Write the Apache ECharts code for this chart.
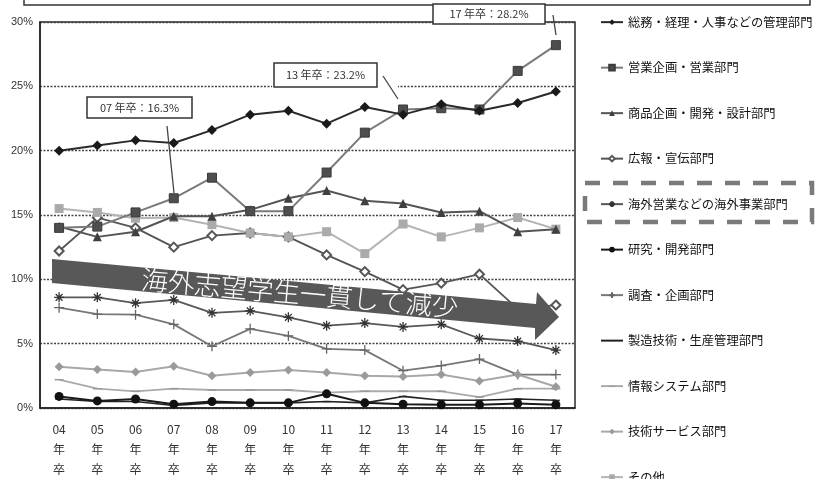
<!DOCTYPE html>
<html>
<head>
<meta charset="utf-8">
<script src="https://cdn.jsdelivr.net/npm/echarts@6/dist/echarts.min.js"></script>
<style>
  html, body { margin: 0; padding: 0; background: #fff; }
  #chart { width: 820px; height: 479px; }
</style>
</head>
<body>
<div id="chart"></div>
<script>
// 卒業年度
const categories = ['04','05','06','07','08','09','10','11','12','13','14','15','16','17'];

// 希望部門別の割合（%）
const kanri   = [20.0,20.4,20.8,20.6,21.6,22.8,23.1,22.1,23.4,22.8,23.6,23.1,23.7,24.6];
const eigyo   = [14.0,14.1,15.2,16.3,17.9,15.3,15.3,18.3,21.4,23.2,23.3,23.2,26.2,28.2];
const shohin  = [14.1,13.3,13.7,14.9,14.9,15.4,16.3,16.9,16.1,15.9,15.2,15.3,13.7,13.9];
const koho    = [12.2,14.8,14.0,12.5,13.4,13.6,13.3,11.9,10.6,9.2,9.7,10.4,7.7,8.0];
const kaigai  = [8.6,8.6,8.15,8.4,7.4,7.55,7.05,6.4,6.6,6.3,6.5,5.4,5.2,4.5];
const kenkyu  = [0.9,0.55,0.7,0.3,0.5,0.4,0.4,1.1,0.4,0.3,0.25,0.25,0.35,0.25];
const chosa   = [7.8,7.3,7.25,6.5,4.8,6.15,5.6,4.6,4.5,2.9,3.3,3.8,2.6,2.6];
const seizo   = [0.7,0.5,0.5,0.2,0.4,0.4,0.4,0.5,0.4,0.9,0.6,0.6,0.7,0.6];
const joho    = [2.2,1.5,1.3,1.5,1.4,1.4,1.4,1.2,1.3,1.3,1.3,0.85,1.5,1.5];
const gijutsu = [3.2,3.0,2.8,3.25,2.5,2.75,2.95,2.75,2.5,2.45,2.6,2.1,2.6,1.65];
const sonota  = [15.5,15.2,14.75,14.8,14.25,13.6,13.3,13.7,12.0,14.3,13.3,14.0,14.8,13.9];

const seriesNames = [
  '総務・経理・人事などの管理部門',
  '営業企画・営業部門',
  '商品企画・開発・設計部門',
  '広報・宣伝部門',
  '海外営業などの海外事業部門',
  '研究・開発部門',
  '調査・企画部門',
  '製造技術・生産管理部門',
  '情報システム部門',
  '技術サービス部門',
  'その他'
];

// 吹き出しで示す営業部門の年度
const calloutYears = ['07', '13', '17'];
const arrowText = '海外志望学生一貫して減少';

const FONT = '"Noto Sans CJK JP", "Noto Sans", sans-serif';
const asterisk = 'path://M5,0L5,10M0,5L10,5M1.6,1.6L8.4,8.4M1.6,8.4L8.4,1.6';
const plus = 'path://M5,0L5,10M0,5L10,5';
// 正方形の枠内に置いた細い横棒（縦横比を保つため枠の角に移動点を置く）
const dash = 'path://M0,0M10,10M0,4.2L10,4.2L10,5.8L0,5.8Z';

function line(name, data, o) {
  return {
    name, type: 'line', data,
    symbol: o.symbol, symbolSize: o.size,
    lineStyle: { color: o.line, width: o.width || 2 },
    itemStyle: Object.assign({ color: o.mark }, o.item || {}),
    z: o.z || 2
  };
}

const series = [
  line(seriesNames[0], kanri,   { symbol: 'diamond', size: 10, line: '#2a2a2a', mark: '#1a1a1a', z: 6 }),
  line(seriesNames[1], eigyo,   { symbol: 'rect', size: 9, line: '#7a7a7a', mark: '#4e4e4e', item: { borderColor: '#3a3a3a', borderWidth: 1 }, z: 5 }),
  line(seriesNames[2], shohin,  { symbol: 'triangle', size: 9, line: '#555', mark: '#3f3f3f', z: 4 }),
  line(seriesNames[3], koho,    { symbol: 'emptyDiamond', size: 9, line: '#555', mark: '#555', item: { borderWidth: 1.3 }, width: 1.8 }),
  line(seriesNames[4], kaigai,  { symbol: asterisk, size: 10, line: '#585858', mark: '#333', item: { borderColor: '#333', borderWidth: 1.3 }, width: 1.8 }),
  line(seriesNames[5], kenkyu,  { symbol: 'circle', size: 9, line: '#1a1a1a', mark: '#111', z: 4 }),
  line(seriesNames[6], chosa,   { symbol: plus, size: 10, line: '#777', mark: '#666', item: { borderColor: '#666', borderWidth: 1.3 }, width: 1.8 }),
  line(seriesNames[7], seizo,   { symbol: dash, size: 8, line: '#222', mark: '#222', width: 1.6 }),
  line(seriesNames[8], joho,    { symbol: dash, size: 9, line: '#aaa', mark: '#999', width: 1.8 }),
  line(seriesNames[9], gijutsu, { symbol: 'diamond', size: 9, line: '#a8a8a8', mark: '#9a9a9a', width: 2 }),
  line(seriesNames[10], sonota, { symbol: 'rect', size: 9, line: '#b4b4b4', mark: '#aaa', width: 2 })
];

const chart = echarts.init(document.getElementById('chart'), null, { renderer: 'canvas' });

chart.setOption({
  animation: false,
  backgroundColor: '#fff',
  grid: { left: 40, top: 22, width: 535, height: 393, show: true, borderColor: '#2a2a2a', borderWidth: 1.5 },
  xAxis: {
    type: 'category', data: categories, boundaryGap: true,
    axisLine: { lineStyle: { color: '#222', width: 1.5 } },
    axisTick: { inside: true, length: 4, lineStyle: { color: '#333', width: 1.2 } },
    axisLabel: { formatter: v => v + '\n年\n卒', lineHeight: 20, fontSize: 12, color: '#333', margin: 11, fontFamily: FONT }
  },
  yAxis: {
    type: 'value', min: 0, max: 30, interval: 5,
    axisLine: { show: true, lineStyle: { color: '#222', width: 1.5 } },
    axisTick: { show: false },
    axisLabel: { formatter: '{value}%', fontSize: 11, color: '#333', margin: 7, fontFamily: 'Liberation Sans, sans-serif' },
    splitLine: { lineStyle: { type: [2, 1.5], color: '#444', width: 1.3 } }
  },
  legend: {
    orient: 'vertical', left: 595, top: 11, height: 700,
    itemWidth: 22, itemHeight: 7, itemGap: 33.2,
    textStyle: { fontSize: 12.3, color: '#111', fontFamily: FONT },
    data: seriesNames
  },
  series
});

// 吹き出しと矢印の注記
function drawNotes() {
  const els = [];
  // 上部の枠
  els.push({ type: 'rect', shape: { x: 24, y: -20, width: 786, height: 25 }, style: { fill: 'none', stroke: '#333', lineWidth: 1.5 }, z: 100 });
  // 海外事業部門の強調枠
  els.push({ type: 'rect', shape: { x: 585, y: 183, width: 227, height: 39 }, style: { fill: 'none', stroke: '#7a7a7a', lineWidth: 4.5, lineDash: [15, 13] }, z: 100 });

  const boxes = {
    '07': { box: [87, 97, 105, 21], lead: [167, 126, 174, 193] },
    '13': { box: [274, 63, 103, 24], lead: [383, 76, 398, 99], mask: [272, 58, 126, 34] },
    '17': { box: [433, 4, 112, 20], lead: [553, 15, 556, 35] }
  };
  calloutYears.forEach(y => {
    const b = boxes[y];
    const v = eigyo[categories.indexOf(y)];
    if (b.mask) {
      els.push({ type: 'rect', shape: { x: b.mask[0], y: b.mask[1], width: b.mask[2], height: b.mask[3] }, style: { fill: '#fff' }, z: 99 });
    }
    els.push({ type: 'rect', shape: { x: b.box[0], y: b.box[1], width: b.box[2], height: b.box[3] }, style: { fill: '#fff', stroke: '#333', lineWidth: 1.5 }, z: 100 });
    els.push({ type: 'text', x: b.box[0] + b.box[2] / 2, y: b.box[1] + b.box[3] / 2, style: { text: y + ' 年卒：' + v.toFixed(1) + '%', fill: '#333', font: '11px ' + FONT, align: 'center', verticalAlign: 'middle' }, z: 101 });
    els.push({ type: 'line', shape: { x1: b.lead[0], y1: b.lead[1], x2: b.lead[2], y2: b.lead[3] }, style: { stroke: '#444', lineWidth: 1.3 }, z: 100 });
  });

  // 減少傾向を示す矢印
  els.push({
    type: 'polygon',
    shape: { points: [[52, 259], [536, 304], [537, 292], [559, 317], [535, 340], [535, 328], [52, 283]] },
    style: { fill: '#585858' }, z: 110
  });
  els.push({
    type: 'text', x: 300, y: 293, rotation: -0.0885, originX: 0, originY: 0,
    style: { text: arrowText, fill: '#fff', font: '300 26.5px ' + FONT, align: 'center', verticalAlign: 'middle' },
    z: 111
  });
  chart.setOption({ graphic: { elements: els } });
}
drawNotes();
</script>
</body>
</html>
